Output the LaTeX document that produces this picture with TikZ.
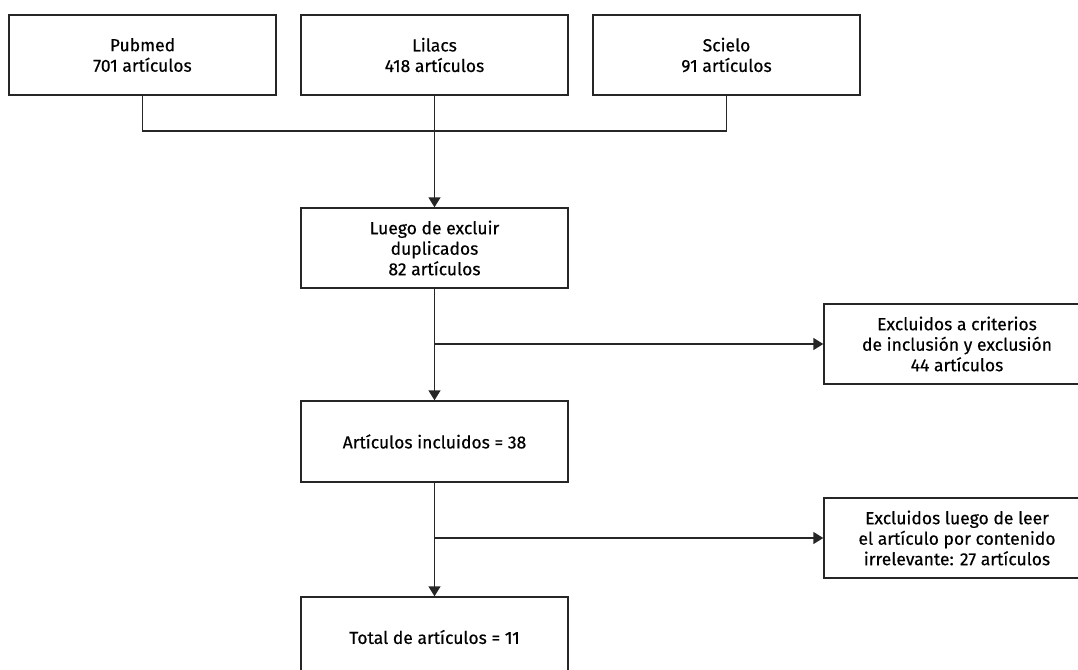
\documentclass[tikz,border=0pt]{standalone}
\usepackage{fontspec}
\setmainfont{Fira Sans}[FakeBold=0.4]
\usepackage{tikz}
\usetikzlibrary{arrows.meta, positioning}

\tikzset{
    caja/.style={draw=black!85, line width=1.4pt, rectangle, align=center,
        inner sep=0pt, font=\fontsize{17.5}{20.5}\selectfont},
    flecha/.style={draw=black!85, line width=1.4pt,
        -{Triangle[width=12pt,length=10pt]}},
    linea/.style={draw=black!85, line width=1.4pt}
}

\begin{document}
\begin{tikzpicture}[x=1pt,y=-1pt]
\clip (0,0) rectangle (1078,669);
\useasboundingbox (0,0) rectangle (1078,669);
% bases de datos
\node[caja, minimum width=267pt, minimum height=80pt] (pub) at (142.5,55) {Pubmed\\701 artículos};
\node[caja, minimum width=267pt, minimum height=80pt] (lil) at (434.5,55) {Lilacs\\418 artículos};
\node[caja, minimum width=267pt, minimum height=80pt] (sci) at (726.5,55) {Scielo\\91 artículos};
% flujo central
\node[caja, minimum width=267pt, minimum height=80pt] (dup) at (434.5,248) {Luego de excluir\\duplicados\\82 artículos};
\node[caja, minimum width=267pt, minimum height=81pt] (inc) at (434.5,441.5) {Artículos incluidos = 38};
\node[caja, minimum width=267pt, minimum height=80pt] (tot) at (434.5,637) {Total de artículos = 11};
% excluidos
\node[caja, minimum width=266pt, minimum height=80pt] (exc1) at (957,344) {Excluidos a criterios\\de inclusión y exclusión\\44 artículos};
\node[caja, minimum width=266pt, minimum height=80pt] (exc2) at (957,538) {Excluidos luego de leer\\el artículo por contenido\\irrelevante: 27 artículos};
\coordinate (union) at (434.5,131);
% conectores
\draw[linea] (pub.south) |- (union);
\draw[linea] (sci.south) |- (union);
\draw[flecha] (lil.south) -- (dup.north);
\draw[flecha] (dup.south) -- (inc.north);
\draw[flecha] (dup.south |- exc1.west) -- (exc1.west);
\draw[flecha] (inc.south) -- (tot.north);
\draw[flecha] (inc.south |- exc2.west) -- (exc2.west);
\end{tikzpicture}
\end{document}
